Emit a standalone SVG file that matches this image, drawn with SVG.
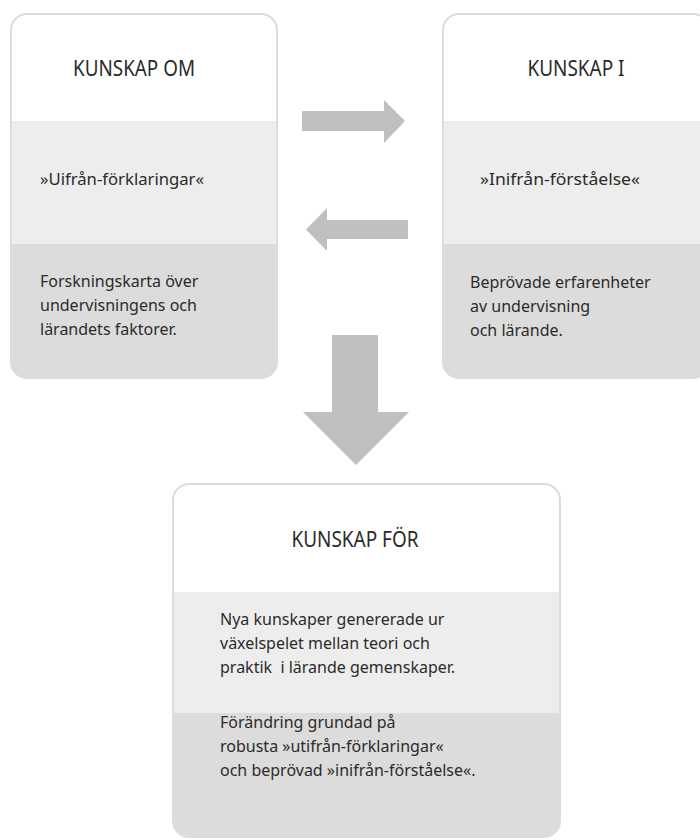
<svg xmlns="http://www.w3.org/2000/svg" width="700" height="840" viewBox="0 0 700 840">
  <defs>
    <style>
      .box { fill: none; stroke: #dcdcdc; stroke-width: 2; }
      .white { fill: #ffffff; }
      .light { fill: #ededed; }
      .dark { fill: #dcdcdc; }
      .title { font-family: "Noto Sans", "Open Sans", "DejaVu Sans", sans-serif; font-size: 21px; fill: #2b2b2b; text-anchor: middle; }
      .body { font-family: "Noto Sans", "Open Sans", "DejaVu Sans", sans-serif; font-size: 16px; fill: #2b2b2b; }
      .arrow { fill: #bfbfbf; }
    </style>
    <clipPath id="clipOm"><rect x="11" y="14" width="266" height="364" rx="16" ry="16"/></clipPath>
    <clipPath id="clipI"><rect x="443" y="14" width="266" height="364" rx="16" ry="16"/></clipPath>
    <clipPath id="clipFor"><rect x="173" y="484" width="387" height="353" rx="16" ry="16"/></clipPath>
  </defs>
  <rect width="700" height="840" fill="#ffffff"/>

  <g id="kunskap-om">
    <g clip-path="url(#clipOm)">
      <rect class="white" x="11" y="14" width="266" height="107"/>
      <rect class="light" x="11" y="121" width="266" height="123"/>
      <rect class="dark" x="11" y="244" width="266" height="134"/>
    </g>
    <rect class="box" x="11" y="14" width="266" height="364" rx="16" ry="16"/>
    <text class="title" x="134" y="76" textLength="122" lengthAdjust="spacingAndGlyphs">KUNSKAP OM</text>
    <text class="body" x="40" y="185" textLength="164" lengthAdjust="spacingAndGlyphs">»Uifrån-förklaringar«</text>
    <text class="body" x="40" y="287">Forskningskarta över</text>
    <text class="body" x="40" y="311">undervisningens och</text>
    <text class="body" x="40" y="335">lärandets faktorer.</text>
  </g>

  <g id="kunskap-i">
    <g clip-path="url(#clipI)">
      <rect class="white" x="443" y="14" width="266" height="107"/>
      <rect class="light" x="443" y="121" width="266" height="123"/>
      <rect class="dark" x="443" y="244" width="266" height="134"/>
    </g>
    <rect class="box" x="443" y="14" width="266" height="364" rx="16" ry="16"/>
    <text class="title" x="576" y="76" textLength="97" lengthAdjust="spacingAndGlyphs">KUNSKAP I</text>
    <text class="body" x="480" y="185" textLength="160" lengthAdjust="spacingAndGlyphs">»Inifrån-förståelse«</text>
    <text class="body" x="470" y="288">Beprövade erfarenheter</text>
    <text class="body" x="470" y="312">av undervisning</text>
    <text class="body" x="470" y="336">och lärande.</text>
  </g>

  <g id="kunskap-for">
    <g clip-path="url(#clipFor)">
      <rect class="white" x="173" y="484" width="387" height="108"/>
      <rect class="light" x="173" y="592" width="387" height="121"/>
      <rect class="dark" x="173" y="713" width="387" height="124"/>
    </g>
    <rect class="box" x="173" y="484" width="387" height="353" rx="16" ry="16"/>
    <text class="title" x="355" y="547" textLength="127" lengthAdjust="spacingAndGlyphs">KUNSKAP FÖR</text>
    <text class="body" x="220" y="625">Nya kunskaper genererade ur</text>
    <text class="body" x="220" y="649">växelspelet mellan teori och</text>
    <text class="body" x="220" y="673" style="white-space:pre">praktik  i lärande gemenskaper.</text>
    <text class="body" x="220" y="728">Förändring grundad på</text>
    <text class="body" x="220" y="752">robusta »utifrån-förklaringar«</text>
    <text class="body" x="220" y="776">och beprövad »inifrån-förståelse«.</text>
  </g>

  <g id="connectors">
    <polygon class="arrow" points="302,111 384,111 384,100 405,121 384,143 384,131 302,131"/>
    <polygon class="arrow" points="408,220 327,220 327,208 306,229.5 327,251 327,239 408,239"/>
    <polygon class="arrow" points="332,335 378,335 378,412 409,412 356,465 303,412 332,412"/>
  </g>
</svg>
